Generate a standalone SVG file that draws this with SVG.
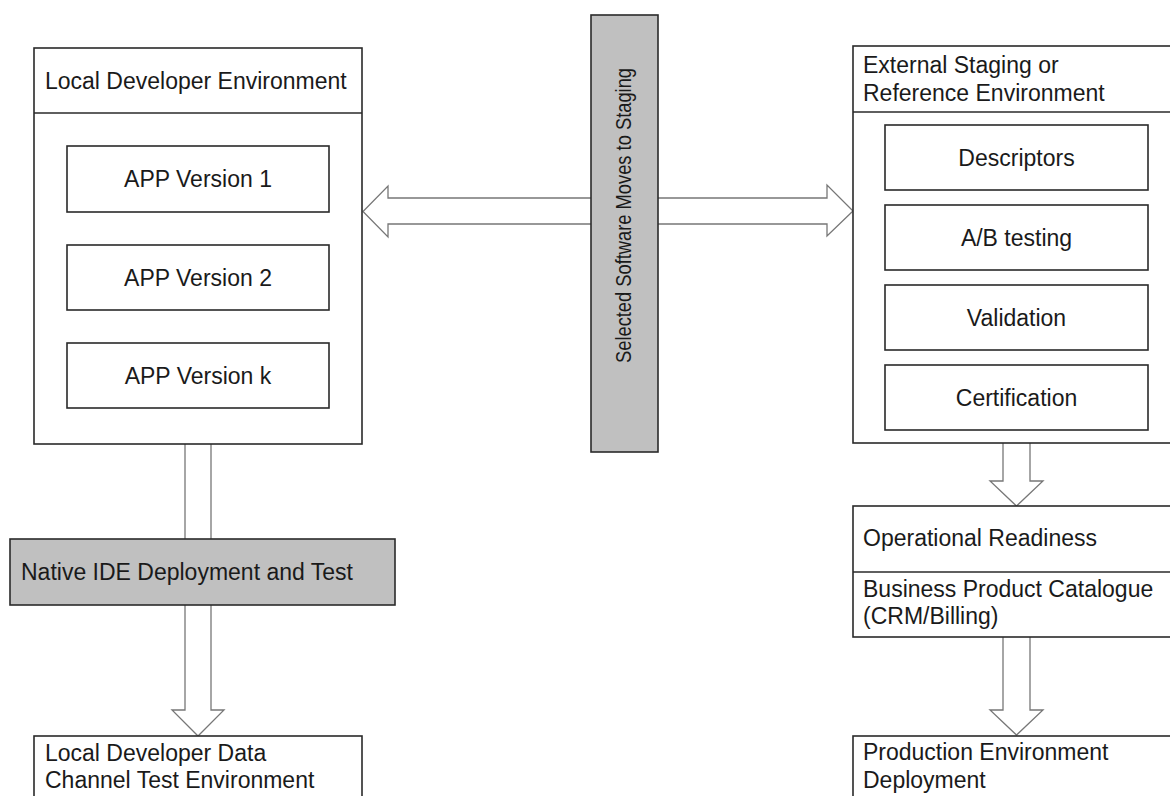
<svg xmlns="http://www.w3.org/2000/svg" width="1170" height="796" viewBox="0 0 1170 796">
<style>
.box{fill:#fff;stroke:#2a2a2a;stroke-width:1.6}
.gray{fill:#c0c0c0;stroke:#2a2a2a;stroke-width:1.6}
.div{stroke:#2a2a2a;stroke-width:1.6;fill:none}
.arr{fill:#fff;stroke:#777;stroke-width:1.3}
text{font-family:"Liberation Sans",Arial,sans-serif;font-size:23px;fill:#1a1a1a}
.c{text-anchor:middle}
</style>
<rect width="1170" height="796" fill="#fff"/>
<g id="connectors">
<path class="arr" d="M591,198 H388 V186 L363,211.5 L388,237 V224 H591"/>
<path class="arr" d="M658,198 H827 V185 L853,211 L827,236 V224 H658"/>
<path class="arr" d="M185,444 V539 M211,444 V539"/>
<path class="arr" d="M185,605 V710 H172 L198,736 L224,710 H211 V605"/>
<path class="arr" d="M1003,443 V481 H990 L1016.5,506 L1043,481 H1030 V443"/>
<path class="arr" d="M1003,637 V710 H990 L1016.5,735 L1043,710 H1030 V637"/>
</g>
<g id="local-dev-env">
<rect class="box" x="34" y="48" width="328" height="396"/>
<line class="div" x1="34" y1="113" x2="362" y2="113"/>
<text x="45" y="89">Local Developer Environment</text>
</g>
<g id="app-v1">
<rect class="box" x="67" y="146" width="262" height="66"/>
<text class="c" x="198" y="187">APP Version 1</text>
</g>
<g id="app-v2">
<rect class="box" x="67" y="245" width="262" height="65"/>
<text class="c" x="198" y="286">APP Version 2</text>
</g>
<g id="app-vk">
<rect class="box" x="67" y="343" width="262" height="65"/>
<text class="c" x="198" y="384">APP Version k</text>
</g>
<g id="selected-software">
<rect class="gray" x="591" y="15" width="67" height="437"/>
<text class="c" style="font-size:22px" textLength="295" lengthAdjust="spacingAndGlyphs" transform="translate(631,215.5) rotate(-90)">Selected Software Moves to Staging</text>
</g>
<g id="staging-env">
<rect class="box" x="853" y="46" width="330" height="397"/>
<line class="div" x1="853" y1="112" x2="1183" y2="112"/>
<text x="863" y="73">External Staging or</text>
<text x="863" y="101">Reference Environment</text>
</g>
<g id="descriptors">
<rect class="box" x="885" y="125" width="263" height="65"/>
<text class="c" x="1016.5" y="165.5">Descriptors</text>
</g>
<g id="ab-testing">
<rect class="box" x="885" y="205" width="263" height="65"/>
<text class="c" x="1016.5" y="245.5">A/B testing</text>
</g>
<g id="validation">
<rect class="box" x="885" y="285" width="263" height="65"/>
<text class="c" x="1016.5" y="325.5">Validation</text>
</g>
<g id="certification">
<rect class="box" x="885" y="365" width="263" height="65"/>
<text class="c" x="1016.5" y="405.5">Certification</text>
</g>
<g id="native-ide">
<rect class="gray" x="10" y="539" width="385" height="66"/>
<text x="21" y="580">Native IDE Deployment and Test</text>
</g>
<g id="local-data-channel">
<rect class="box" x="34" y="736" width="328" height="80"/>
<text x="45" y="761">Local Developer Data</text>
<text x="45" y="788">Channel Test Environment</text>
</g>
<g id="operational-readiness">
<rect class="box" x="853" y="506" width="330" height="131"/>
<line class="div" x1="853" y1="572" x2="1183" y2="572"/>
<text x="863" y="546">Operational Readiness</text>
<text x="863" y="597">Business Product Catalogue</text>
<text x="863" y="624">(CRM/Billing)</text>
</g>
<g id="production">
<rect class="box" x="853" y="736" width="330" height="80"/>
<text x="863" y="760">Production Environment</text>
<text x="863" y="788">Deployment</text>
</g>
</svg>
